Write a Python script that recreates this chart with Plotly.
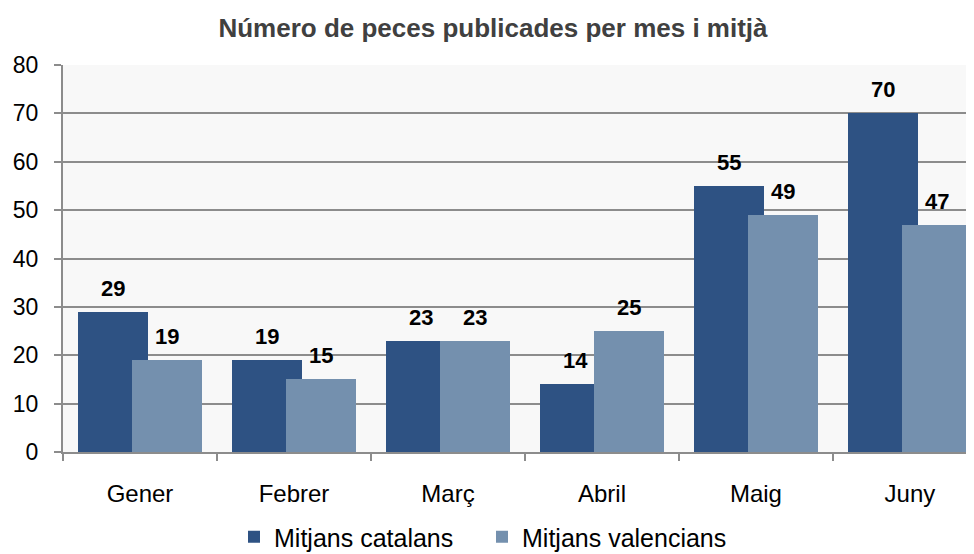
import plotly.graph_objects as go

months = ["Gener", "Febrer", "Març", "Abril", "Maig", "Juny"]
catalans = [29, 19, 23, 14, 55, 70]
valencians = [19, 15, 23, 25, 49, 47]
series_names = ["Mitjans catalans", "Mitjans valencians"]
colors = ["#2E5283", "#7490AE"]
y_ticks = [0, 10, 20, 30, 40, 50, 60, 70, 80]

W = 0.45
offsets = [-0.40, -0.05]
FW, FH = 966, 546  # page body has an 8px default margin

fig = go.Figure()
for name, vals, col, off in zip(series_names, [catalans, valencians], colors, offsets):
    fig.add_trace(go.Bar(
        x=months, y=vals, name=name,
        marker=dict(color=col, line=dict(width=0)),
        width=W, offset=off,
    ))

annotations = []
for vals, off in zip([catalans, valencians], offsets):
    for i, v in enumerate(vals):
        annotations.append(dict(
            x=i + off + W / 2, y=v, xref="x", yref="y",
            text=f"<b>{v}</b>", showarrow=False,
            yanchor="bottom", yshift=9,
            font=dict(family="Liberation Sans, Arial, sans-serif", size=22, color="#000000"),
        ))

fig.update_layout(
    width=FW, height=FH,
    margin=dict(l=55, r=0, t=57, b=102),
    barmode="overlay",
    paper_bgcolor="#FFFFFF",
    plot_bgcolor="#F8F8F8",
    title=dict(
        text="<b>Número de peces publicades per mes i mitjà</b>",
        x=485 / FW, xanchor="center", y=1 - 20 / FH, yanchor="middle",
        font=dict(family="Liberation Sans, Arial, sans-serif", size=26, color="#404040"),
    ),
    font=dict(family="Liberation Sans, Arial, sans-serif", size=22, color="#000000"),
    showlegend=True,
    legend=dict(
        orientation="h", xref="container", yref="container",
        x=474 / FW, xanchor="center", y=17 / FH, yanchor="middle",
        font=dict(size=25, color="#000000"),
        itemwidth=30, traceorder="normal",
        entrywidth=203, entrywidthmode="pixels",
    ),
    annotations=annotations,
    bargap=0,
)
fig.update_xaxes(
    range=[-0.5, 5.416],
    showgrid=False,
    showline=True, linecolor="#8C8C8C", linewidth=2,
    ticks="outside", tickson="boundaries", ticklen=7, tickcolor="#8C8C8C", tickwidth=2,
    tickfont=dict(size=24, color="#000000"),
    ticklabelstandoff=19,
)
fig.update_yaxes(
    range=[0, 80], tickvals=y_ticks,
    showgrid=True, gridcolor="#8C8C8C", gridwidth=1.5,
    showline=True, linecolor="#8C8C8C", linewidth=2,
    ticks="outside", ticklen=7, tickcolor="#8C8C8C", tickwidth=2,
    tickfont=dict(size=23, color="#000000"),
    ticklabelstandoff=11,
    zeroline=False,
)

fig.write_html("out.html")
